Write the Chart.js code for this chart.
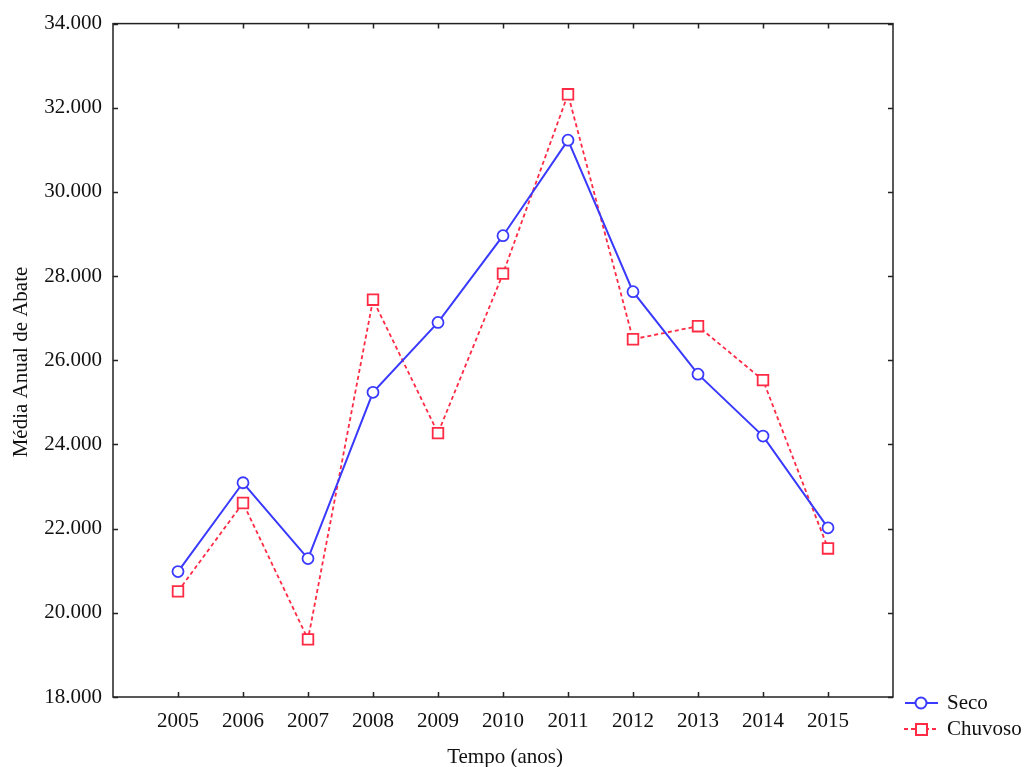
<!DOCTYPE html>
<html>
<head>
<meta charset="utf-8">
<script src="https://cdn.jsdelivr.net/npm/chart.js@4/dist/chart.umd.min.js"></script>
<style>
  html, body { margin: 0; padding: 0; background: #ffffff; }
  #wrap { width: 1025px; height: 767px; position: relative; }
</style>
</head>
<body>
<div id="wrap"><canvas id="c" width="1025" height="767"></canvas></div>
<script>
// Years on the horizontal axis
const years = [2005, 2006, 2007, 2008, 2009, 2010, 2011, 2012, 2013, 2014, 2015];
// Mean annual slaughter, dry season
const seco = [20980, 23090, 21290, 25240, 26900, 28960, 31230, 27630, 25670, 24200, 22020];
// Mean annual slaughter, rainy season
const chuvoso = [20510, 22610, 19370, 27440, 24270, 28060, 32320, 26500, 26810, 25530, 21530];
// Vertical tick values
const yTicks = [18000, 20000, 22000, 24000, 26000, 28000, 30000, 32000, 34000];

const FONT = '"Liberation Serif", "Times New Roman", serif';
const FSIZE = 21;
const BLUE = '#3a3aff';
const RED = '#ff2a44';

function fmt(v) {
  const s = String(Math.round(v));
  return s.slice(0, s.length - 3) + '.' + s.slice(-3);
}

const framePlugin = {
  id: 'frame',
  afterDatasetsDraw(chart) {
    const { ctx, chartArea: a, scales } = chart;
    ctx.save();
    ctx.strokeStyle = '#222';
    ctx.lineWidth = 1.5;
    ctx.strokeRect(a.left, a.top, a.right - a.left, a.bottom - a.top);
    ctx.beginPath();
    const tl = 5;
    yTicks.forEach(v => {
      const y = Math.round(scales.y.getPixelForValue(v)) + 0.5;
      ctx.moveTo(a.left, y); ctx.lineTo(a.left + tl, y);
      ctx.moveTo(a.right, y); ctx.lineTo(a.right - tl, y);
    });
    years.forEach(v => {
      const x = Math.round(scales.x.getPixelForValue(v)) + 0.5;
      ctx.moveTo(x, a.bottom); ctx.lineTo(x, a.bottom - tl);
      ctx.moveTo(x, a.top); ctx.lineTo(x, a.top + tl);
    });
    ctx.stroke();

    // axis titles
    ctx.fillStyle = '#111';
    ctx.font = FSIZE + 'px ' + FONT;
    ctx.textAlign = 'center';
    ctx.textBaseline = 'middle';
    ctx.fillText('Tempo (anos)', 505, 757);
    ctx.save();
    ctx.translate(21, 362);
    ctx.rotate(-Math.PI / 2);
    ctx.fillText('Média Anual de Abate', 0, 0);
    ctx.restore();

    // legend
    ctx.textAlign = 'left';
    ctx.lineWidth = 2;
    ctx.strokeStyle = BLUE;
    ctx.beginPath(); ctx.moveTo(905, 703); ctx.lineTo(938, 703); ctx.stroke();
    ctx.fillStyle = '#fff';
    ctx.beginPath(); ctx.arc(921, 703, 5.5, 0, Math.PI * 2); ctx.fill(); ctx.stroke();
    ctx.strokeStyle = RED;
    ctx.lineWidth = 1.8;
    ctx.setLineDash([4, 3]);
    ctx.beginPath(); ctx.moveTo(904, 729); ctx.lineTo(939, 729); ctx.stroke();
    ctx.setLineDash([]);
    ctx.lineWidth = 2;
    ctx.fillStyle = '#fff';
    ctx.fillRect(916, 724, 11, 11);
    ctx.strokeRect(916, 724, 11, 11);
    ctx.fillStyle = '#111';
    ctx.fillText('Seco', 947, 703);
    ctx.fillText('Chuvoso', 947, 729);
    ctx.restore();
  }
};

const bgPlugin = {
  id: 'bg',
  beforeDraw(chart) {
    const { ctx, width, height } = chart;
    ctx.save();
    ctx.fillStyle = '#fff';
    ctx.fillRect(0, 0, width, height);
    ctx.restore();
  }
};

new Chart(document.getElementById('c'), {
  type: 'line',
  data: {
    datasets: [
      {
        label: 'Seco',
        data: years.map((y, i) => ({ x: y, y: seco[i] })),
        borderColor: BLUE,
        borderWidth: 2,
        pointStyle: 'circle',
        pointRadius: 5.5,
        pointBorderWidth: 1.8,
        pointBackgroundColor: '#fff',
        pointBorderColor: BLUE,
        tension: 0
      },
      {
        label: 'Chuvoso',
        data: years.map((y, i) => ({ x: y, y: chuvoso[i] })),
        borderColor: RED,
        borderWidth: 1.8,
        borderDash: [4, 3],
        pointStyle: 'rect',
        pointRadius: 7.5,
        pointBorderWidth: 1.8,
        pointBackgroundColor: '#fff',
        pointBorderColor: RED,
        tension: 0
      }
    ]
  },
  options: {
    responsive: false,
    animation: false,
    devicePixelRatio: 1,
    layout: { padding: { top: 21, right: 132, left: 0, bottom: 0 } },
    plugins: { legend: { display: false }, tooltip: { enabled: false } },
    scales: {
      x: {
        type: 'linear',
        min: 2004, max: 2016,
        afterFit(s) { s.height = 70; },
        afterBuildTicks(s) { s.ticks = years.map(v => ({ value: v })); },
        grid: { display: false, drawTicks: false },
        border: { display: false },
        ticks: {
          padding: 12,
          color: '#111',
          font: { family: FONT, size: FSIZE },
          callback: v => String(v),
          maxRotation: 0, autoSkip: false
        }
      },
      y: {
        min: 18000, max: 34000,
        afterFit(s) { s.width = 113; },
        afterBuildTicks(s) { s.ticks = yTicks.map(v => ({ value: v })); },
        grid: { display: false, drawTicks: false },
        border: { display: false },
        ticks: {
          padding: 11,
          color: '#111',
          font: { family: FONT, size: FSIZE },
          callback: v => fmt(v)
        }
      }
    }
  },
  plugins: [bgPlugin, framePlugin]
});
</script>
</body>
</html>
